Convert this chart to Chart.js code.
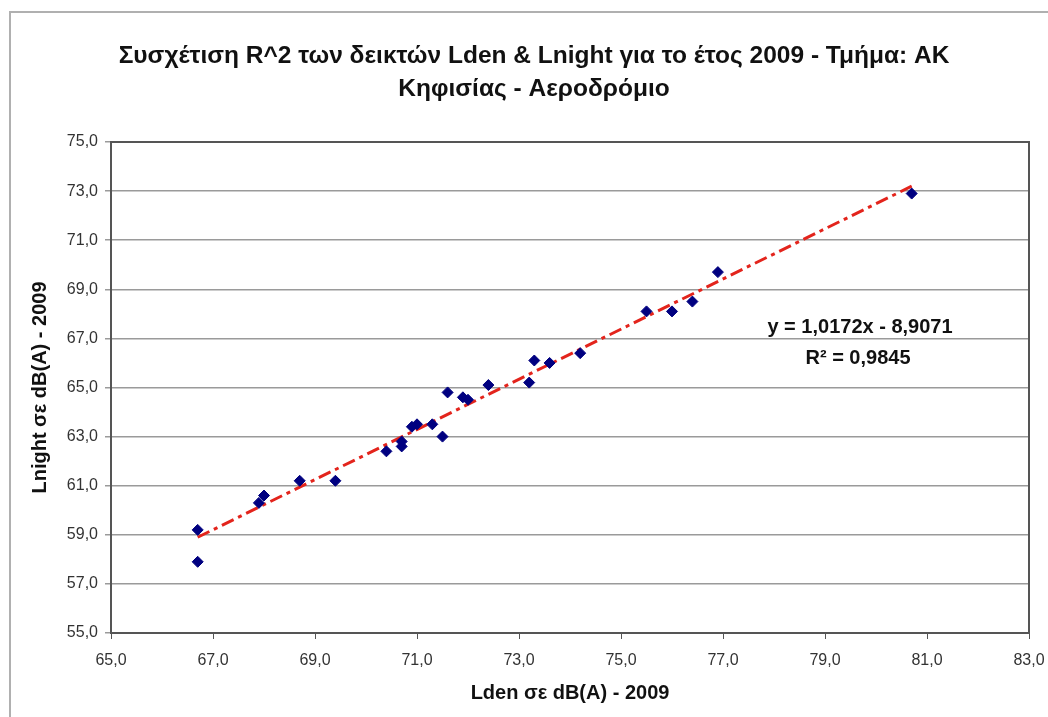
<!DOCTYPE html>
<html>
<head>
<meta charset="utf-8">
<script src="https://cdn.jsdelivr.net/npm/chart.js@4/dist/chart.umd.min.js"></script>
<style>
  html, body { margin: 0; padding: 0; background: #fff; }
  canvas { display: block; }
</style>
</head>
<body>
<canvas id="chart" width="1048" height="717"></canvas>
<script>
// values
var ldenValues = [66.7, 66.7, 67.9, 68.0, 68.7, 69.4, 70.4, 70.7, 70.7, 70.9, 71.0, 71.3, 71.5,
                  71.6, 71.9, 72.0, 72.4, 73.2, 73.3, 73.6, 74.2, 75.5, 76.0, 76.4, 76.9, 80.7];
var lnightValues = [57.9, 59.2, 60.3, 60.6, 61.2, 61.2, 62.4, 62.8, 62.6, 63.4, 63.5, 63.5, 63.0,
                    64.8, 64.6, 64.5, 65.1, 65.2, 66.1, 66.0, 66.4, 68.1, 68.1, 68.5, 69.7, 72.9];

// end points of the linear trend line
var trendX = [66.7, 80.7];
var trendY = [58.9, 73.2];

var xTicks = [65, 67, 69, 71, 73, 75, 77, 79, 81, 83];
var yTicks = [55, 57, 59, 61, 63, 65, 67, 69, 71, 73, 75];

var chartTitle = ['Συσχέτιση R^2 των δεικτών Lden & Lnight για το έτος 2009 - Τμήμα: ΑΚ',
                  'Κηφισίας - Αεροδρόμιο'];
var xTitle = 'Lden σε dB(A) - 2009';
var yTitle = 'Lnight σε dB(A) - 2009';
var equationLines = ['y = 1,0172x - 8,9071', 'R² = 0,9845'];

var FONT = '"Liberation Sans", Arial, Helvetica, sans-serif';

function pairs(xs, ys) {
    return xs.map(function(x, i) { return { x: x, y: ys[i] }; });
}

function commaLabel(v) {
    return Number(v).toFixed(1).replace('.', ',');
}

// titles, frame and the equation box
var decorPlugin = {
    id: 'decor',
    beforeDraw: function(chart) {
        var ctx = chart.ctx;
        ctx.save();
        ctx.fillStyle = '#fff';
        ctx.fillRect(0, 0, chart.width, chart.height);
        ctx.strokeStyle = '#b0b0b0';
        ctx.lineWidth = 2;
        ctx.strokeRect(10, 12, chart.width + 20, chart.height + 20);
        ctx.restore();
    },
    afterDraw: function(chart) {
        var ctx = chart.ctx;
        var a = chart.chartArea;
        ctx.save();
        // plot frame
        ctx.strokeStyle = '#555';
        ctx.lineWidth = 2;
        ctx.strokeRect(a.left, a.top, a.right - a.left, a.bottom - a.top);

        ctx.fillStyle = '#111';
        ctx.textAlign = 'center';
        ctx.textBaseline = 'middle';
        ctx.font = 'bold 24.5px ' + FONT;
        ctx.fillText(chartTitle[0], 534, 56);
        ctx.fillText(chartTitle[1], 534, 89);

        ctx.font = 'bold 20px ' + FONT;
        ctx.fillText(equationLines[0], 860, 327);
        ctx.fillText(equationLines[1], 858, 358);
        ctx.restore();
    }
};

var ctx = document.getElementById('chart');
var myChart = new Chart(ctx, {
    data: {
        datasets: [{
            type: 'scatter',
            label: 'Lnight',
            data: pairs(ldenValues, lnightValues),
            pointStyle: 'rectRot',
            pointRadius: 5.5,
            backgroundColor: '#000080',
            borderColor: '#000080',
            borderWidth: 1,
            order: 1
        }, {
            type: 'line',
            label: 'Γραμμική',
            data: pairs(trendX, trendY),
            borderColor: '#e3241c',
            borderWidth: 3,
            borderDash: [13, 5, 4, 5],
            pointRadius: 0,
            fill: false,
            order: 2
        }]
    },
    options: {
        responsive: false,
        animation: false,
        layout: { padding: { left: 0, top: 142, right: 19, bottom: 0 } },
        plugins: {
            legend: { display: false },
            tooltip: { enabled: false },
            title: { display: false }
        },
        scales: {
            x: {
                type: 'linear',
                min: 65,
                max: 83,
                afterFit: function(scale) {
                    scale.height = 84;
                    scale.paddingLeft = 0;
                    scale.paddingRight = 0;
                },
                afterBuildTicks: function(scale) {
                    scale.ticks = xTicks.map(function(v) { return { value: v }; });
                },
                grid: {
                    drawOnChartArea: false,
                    drawTicks: true,
                    tickLength: 6,
                    color: '#555'
                },
                border: { display: true, color: '#555', width: 2 },
                ticks: {
                    padding: 12,
                    color: '#333',
                    font: { family: FONT, size: 16 },
                    maxRotation: 0,
                    callback: commaLabel
                },
                title: {
                    display: true,
                    text: xTitle,
                    color: '#111',
                    font: { family: FONT, size: 20, weight: 'bold' },
                    padding: { top: 0, bottom: 12 }
                }
            },
            y: {
                type: 'linear',
                min: 55,
                max: 75,
                afterFit: function(scale) {
                    scale.width = 111;
                    scale.paddingTop = 0;
                    scale.paddingBottom = 0;
                },
                afterBuildTicks: function(scale) {
                    scale.ticks = yTicks.map(function(v) { return { value: v }; });
                },
                grid: {
                    drawOnChartArea: true,
                    drawTicks: true,
                    tickLength: 6,
                    color: '#9a9a9a',
                    lineWidth: 1.5
                },
                border: { display: true, color: '#555', width: 2 },
                ticks: {
                    padding: 7,
                    color: '#333',
                    font: { family: FONT, size: 16 },
                    callback: commaLabel
                },
                title: {
                    display: true,
                    text: yTitle,
                    color: '#111',
                    font: { family: FONT, size: 20, weight: 'bold' },
                    padding: { top: 28, bottom: 0 }
                }
            }
        }
    },
    plugins: [decorPlugin]
});
</script>
</body>
</html>
